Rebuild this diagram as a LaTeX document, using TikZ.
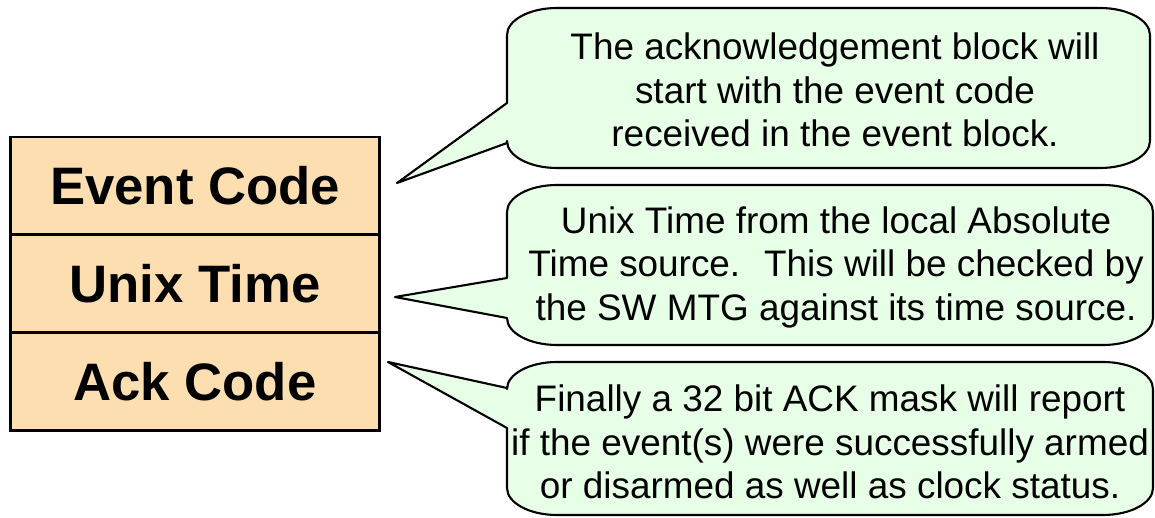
\documentclass[tikz,border=0pt]{standalone}
\usepackage{fontspec}
\setmainfont{Liberation Sans}
\usetikzlibrary{positioning}
\definecolor{fieldfill}{RGB}{253,222,176}
\definecolor{notefill}{RGB}{230,255,230}
\tikzstyle{field}=[%
  draw,
  fill=fieldfill,
  line width=1.7pt,
  outer sep=0pt,
  minimum width=7.4cm,
  minimum height=1.96cm,
  font=\fontsize{30}{36}\selectfont\bfseries
]
\tikzstyle{bubble}=[%
  draw,
  fill=notefill,
  line width=1.2pt,
  line join=round
]
\tikzstyle{note}=[%
  align=center,
  font=\fontsize{21}{24.75}\selectfont
]

\begin{document}
\begin{tikzpicture}[x=0.02cm, y=0.02cm]
      \useasboundingbox (0,0) rectangle (1155,517);
      \node[field] (event) at (195,331) {Event Code};
      \node[field, below=0pt of event] (unix) {Unix Time};
      \node[field, below=0pt of unix] (ack) {Ack Code};
      \coordinate (tip1) at (397,334);
      \coordinate (tip2) at (395,220);
      \coordinate (tip3) at (388,155);
      \foreach \yt/\yb/\xr/\ya/\yl/\tp in {509/349/1150/414/374/tip1, 332/172/1153/239/199/tip2, 155/2/1153/129/89/tip3} {%
        \draw[bubble] (507,\yl) -- (\tp) -- (507,\ya) -- (507,\yt-27)
          arc[start angle=180, end angle=90, x radius=50, y radius=27] -- (\xr-50,\yt)
          arc[start angle=90, end angle=0, x radius=50, y radius=27] -- (\xr,\yb+27)
          arc[start angle=0, end angle=-90, x radius=50, y radius=27] -- (557,\yb)
          arc[start angle=270, end angle=180, x radius=50, y radius=27] -- cycle;
      }
      \node[note] (ackmsg) at (835,427) {The acknowledgement block will\\start with the event code\\received in the event block.};
      \node[note] (timemsg) at (836,250) {Unix Time from the local Absolute\\Time source.~ This will be checked by\\the SW MTG against its time source.};
      \node[note] (maskmsg) at (830,75) {Finally a 32 bit ACK mask will report\\if the event(s) were successfully armed\\or disarmed as well as clock status.};
    \end{tikzpicture}
\end{document}
